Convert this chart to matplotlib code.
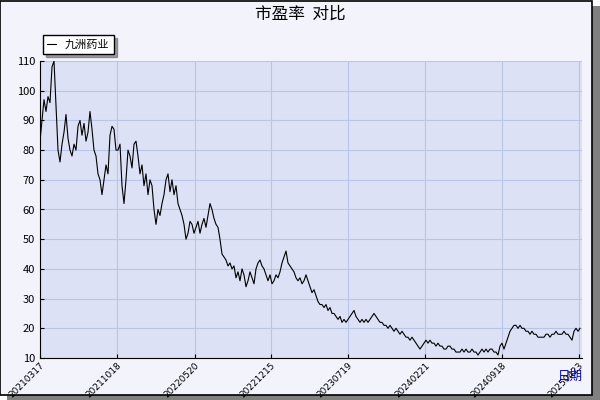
import matplotlib
matplotlib.use('Agg')
import matplotlib.pyplot as plt
import numpy as np

plt.rcParams['font.family'] = ['Noto Sans CJK SC', 'DejaVu Sans']

pe = [83, 90, 97, 93, 98, 96, 108, 110, 95, 80, 76, 82, 86, 92, 84, 80, 78, 82, 80, 88,
      90, 85, 89, 83, 86, 93, 87, 80, 78, 72, 70, 65, 70, 75, 72, 85, 88, 87, 80, 80,
      82, 68, 62, 70, 80, 78, 74, 82, 83, 78, 72, 75, 68, 72, 65, 70, 68, 60, 55, 60,
      58, 62, 65, 70, 72, 66, 70, 65, 68, 62, 60, 58, 55, 50, 52, 56, 55, 52, 54, 56,
      52, 55, 57, 54, 58, 62, 60, 57, 55, 54, 50, 45, 44, 43, 41, 42, 40, 41, 37, 39,
      36, 40, 38, 34, 36, 39, 37, 35, 40, 42, 43, 41, 40, 38, 36, 38, 35, 36, 38, 37,
      39, 42, 44, 46, 42, 41, 40, 39, 37, 36, 37, 35, 36, 38, 36, 34, 32, 33, 31, 29,
      28, 28, 27, 28, 26, 27, 25, 25, 24, 23, 24, 22, 23, 22, 23, 24, 25, 26, 24, 23,
      22, 23, 22, 23, 22, 23, 24, 25, 24, 23, 22, 22, 21, 21, 20, 21, 20, 19, 20, 19,
      18, 19, 18, 17, 17, 16, 17, 16, 15, 14, 13, 14, 15, 16, 15, 16, 15, 15, 14, 15,
      14, 14, 13, 13, 14, 14, 13, 13, 12, 12, 12, 13, 12, 13, 12, 12, 13, 12, 12, 11,
      12, 13, 12, 13, 12, 13, 13, 12, 12, 11, 14, 15, 13, 15, 17, 19, 20, 21, 21, 20,
      21, 20, 20, 19, 19, 18, 19, 18, 18, 17, 17, 17, 17, 18, 18, 17, 18, 18, 19, 18,
      18, 18, 19, 18, 18, 17, 16, 19, 20, 19, 20]
tick_pos = [0, 38.5, 77.5, 115.5, 154, 192.5, 231, 269.5]
tick_labels = ['20210317', '20211018', '20220520', '20221215', '20230719',
               '20240221', '20240918', '20250423']

fig = plt.figure(figsize=(6, 4), dpi=100, facecolor='white')
# background panel with shadow
fig.patches.append(plt.Rectangle((0.012, 0.0), 0.988, 0.985, transform=fig.transFigure,
                                 facecolor='#808080', edgecolor='none', zorder=-2))
fig.patches.append(plt.Rectangle((0.0, 0.012), 0.986, 0.986, transform=fig.transFigure,
                                 facecolor='#f2f3fb', edgecolor='black', lw=1.2, zorder=-1))

ax = fig.add_axes([40/600, 42/400, 542/600, 297/400])
ax.set_facecolor('#dce1f5')
x = np.arange(len(pe))
ax.plot(x, pe, color='black', lw=0.8, label='九洲药业')
ax.set_xlim(0, 271)
ax.set_ylim(10, 110)
ax.set_yticks(range(10, 111, 10))
ax.set_xticks(tick_pos)
ax.set_xticklabels(tick_labels, rotation=45, ha='right', rotation_mode='anchor', fontsize=6.5,
                   family='DejaVu Sans')
ax.tick_params(axis='y', labelsize=8, length=3, direction='in')
ax.tick_params(axis='x', length=3, direction='in', pad=2)
ax.grid(color='#b8c4e8', lw=0.8)
for s in ['top', 'right']:
    ax.spines[s].set_visible(False)
ax.spines['left'].set_color('black')
ax.spines['bottom'].set_color('black')

fig.text(0.5, 0.965, '市盈率  对比', ha='center', va='center', fontsize=12)
fig.text(0.95, 0.06, '日期', ha='center', va='center', fontsize=9, color='#0000cc')
leg = ax.legend(loc='lower left', bbox_to_anchor=(-0.005, 1.005), fontsize=8,
                frameon=True, fancybox=False, shadow=True, handlelength=0.8,
                borderpad=0.4)
leg.get_frame().set_edgecolor('black')

fig.savefig('out.png', dpi=100, facecolor=fig.get_facecolor())
